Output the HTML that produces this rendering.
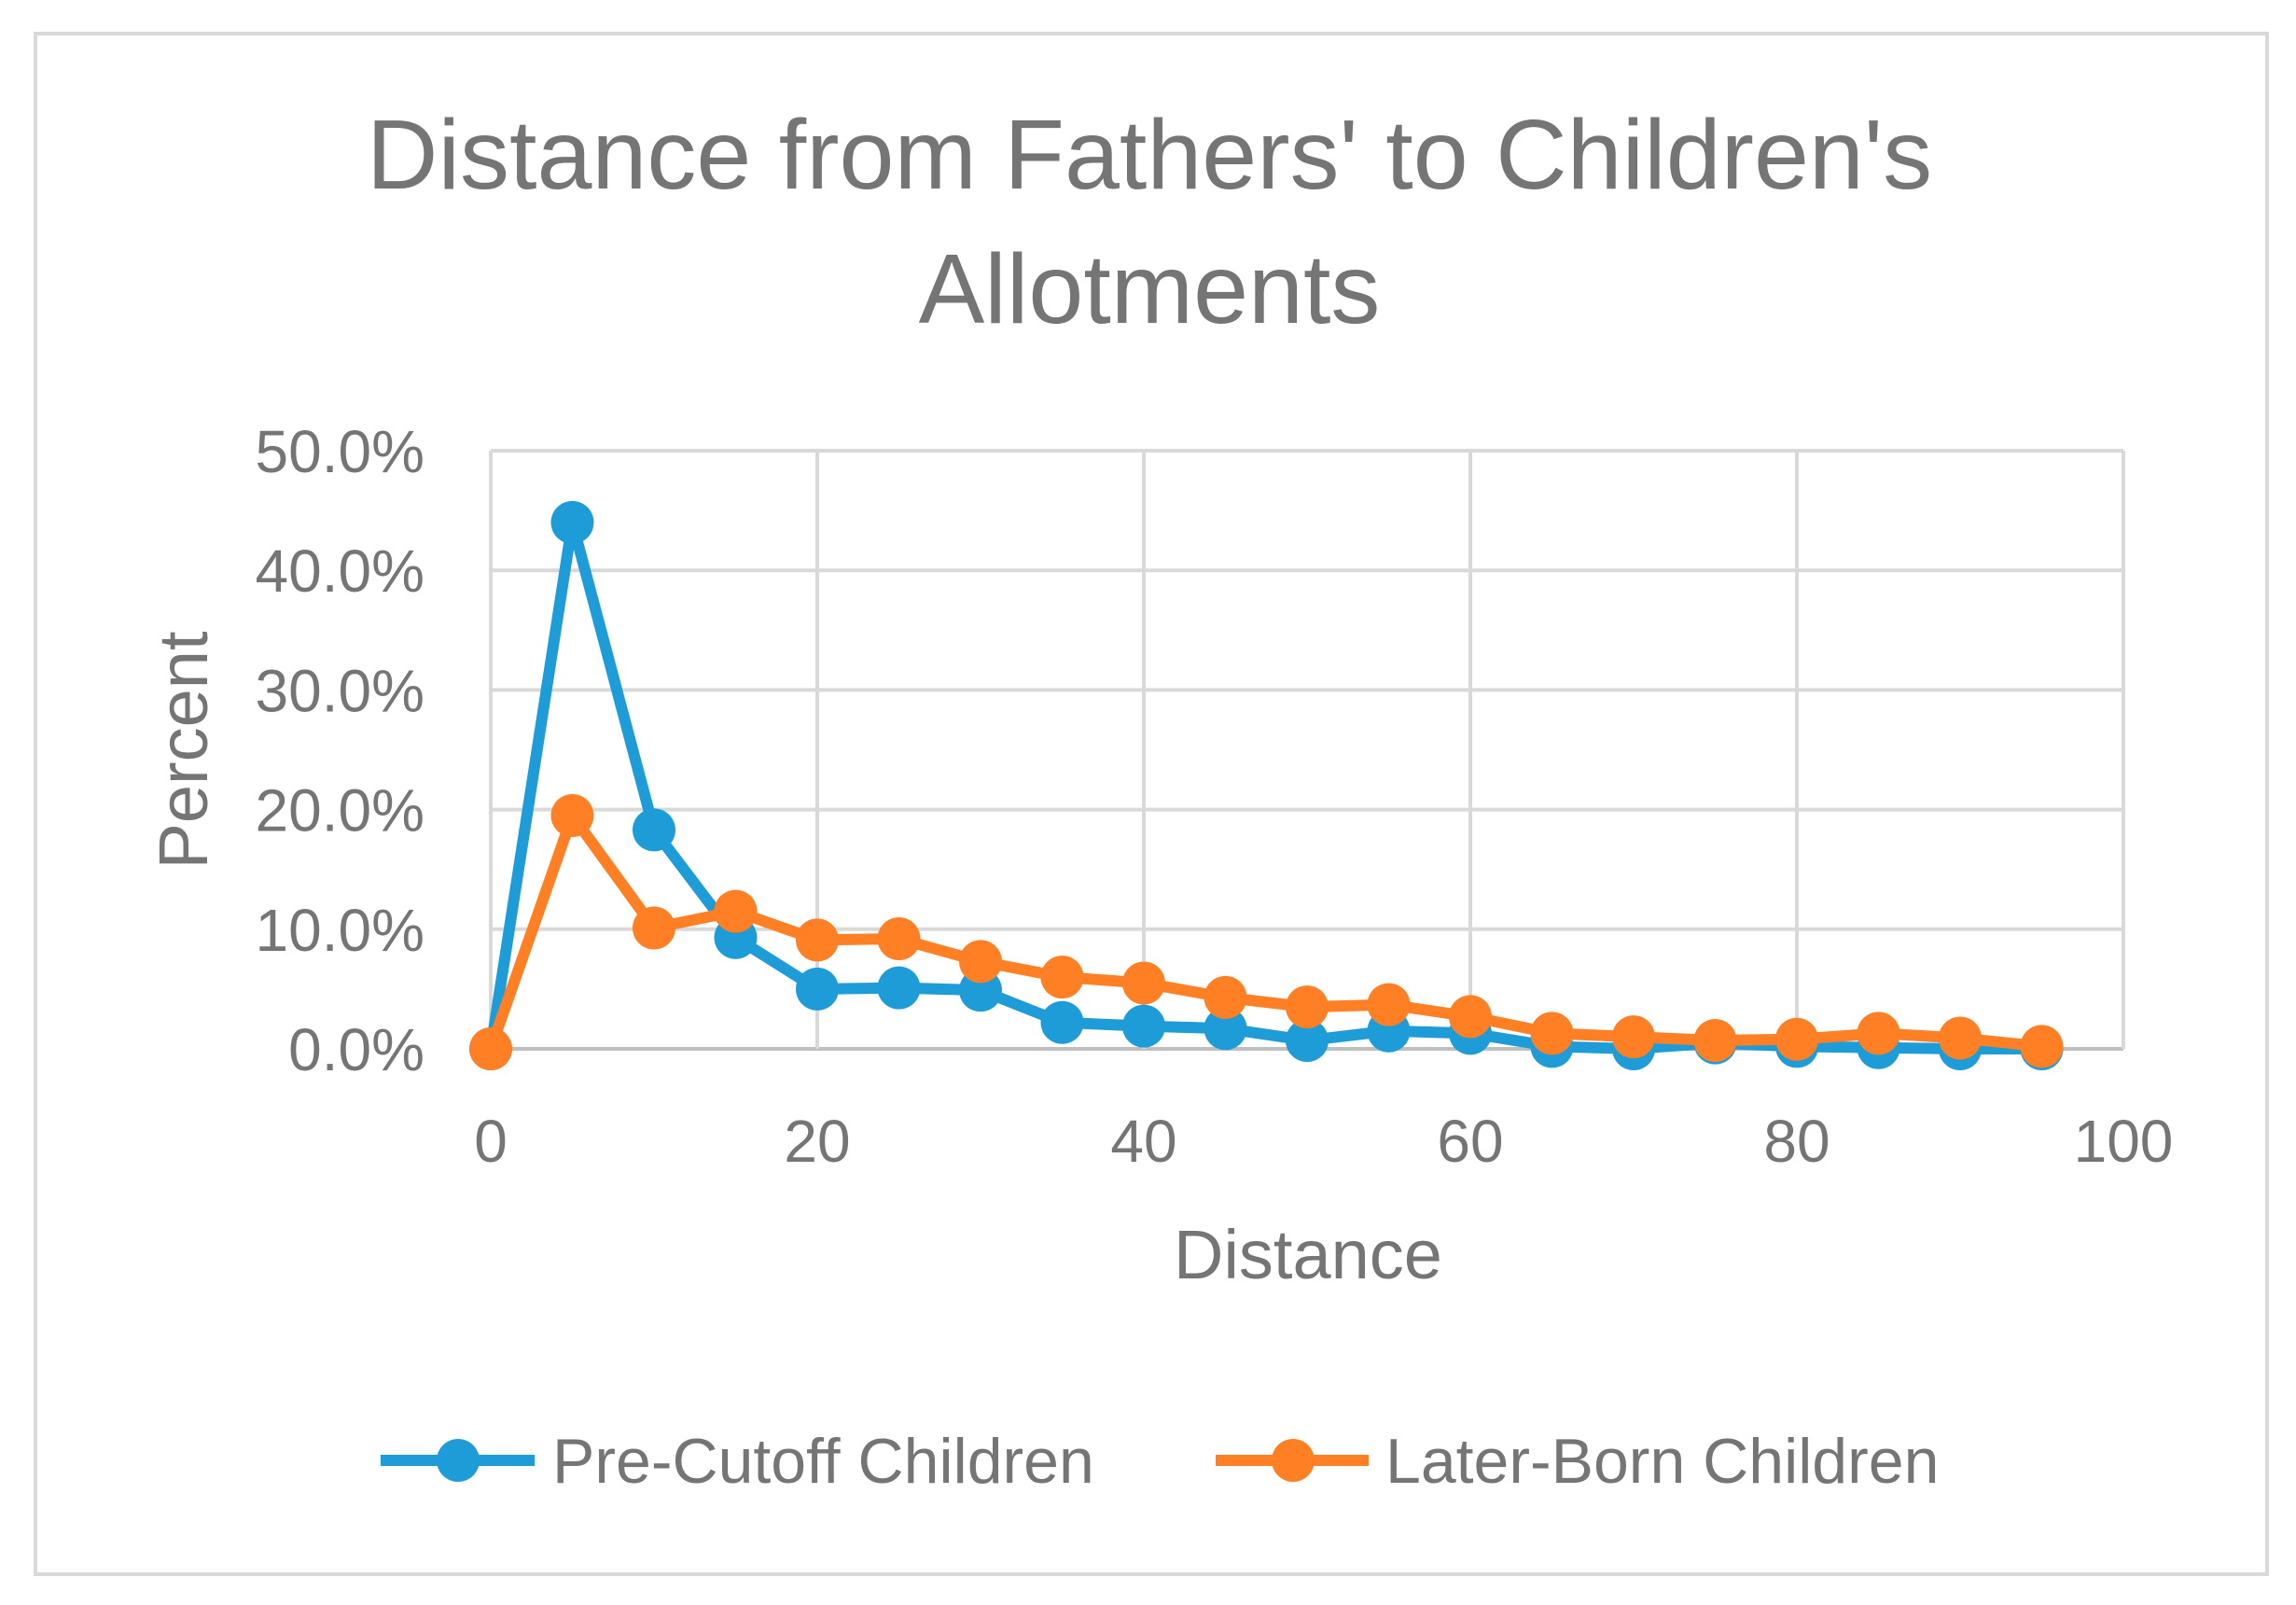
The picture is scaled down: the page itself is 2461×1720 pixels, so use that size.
<!DOCTYPE html>
<html><head><meta charset="utf-8"><style>
html,body{margin:0;padding:0;background:#fff;}
svg{display:block;font-family:"Liberation Sans",sans-serif;}
</style></head><body>
<svg id="chart" width="2461" height="1720">
<rect x="38" y="36" width="2392" height="1651" fill="#fff" stroke="#d9d9d9" stroke-width="4"/>
<text x="1232" y="202" text-anchor="middle" font-size="106" fill="#757575">Distance from Fathers' to Children's</text>
<text x="1232" y="346" text-anchor="middle" font-size="106" fill="#757575">Allotments</text>
<g id="grid"></g>
<g id="series"></g>
<text transform="translate(222,804) rotate(-90)" text-anchor="middle" font-size="74" fill="#757575">Percent</text>
<text x="1402" y="1370" text-anchor="middle" font-size="74" fill="#757575">Distance</text>
<g>
<g>
<line x1="408" y1="1565" x2="573" y2="1565" stroke="#1e9cd8" stroke-width="12"/>
<circle cx="491" cy="1565" r="23" fill="#1e9cd8"/>
<text x="592" y="1589" font-size="68" fill="#757575">Pre-Cutoff Children</text>
</g>
<g>
<line x1="1303" y1="1565" x2="1467" y2="1565" stroke="#fe7f24" stroke-width="12"/>
<circle cx="1386" cy="1565" r="23" fill="#fe7f24"/>
<text x="1485" y="1589" font-size="68" fill="#757575">Later-Born Children</text>
</g>
</g>
</svg>
<script>
const distances = [0,5,10,15,20,25,30,35,40,45,50,55,60,65,70,75,80,85,90,95];
const preCutoff = [0,44,18.3,9.3,5,5.1,4.9,2.2,1.9,1.7,0.7,1.5,1.3,0.2,0,0.5,0.2,0.1,0,0];
const laterBorn = [0,19.5,10.1,11.5,9.1,9.2,7.3,6.0,5.5,4.3,3.5,3.7,2.7,1.3,1.0,0.7,0.8,1.3,0.9,0.2];
const xTicks = [0,20,40,60,80,100];
const yTicks = [0,10,20,30,40,50];
const NS = "http://www.w3.org/2000/svg";
const L=526,R=2276,T=483,B=1124;
function xs(v){return L+(v/100)*(R-L);}
function ys(v){return B-(v/50)*(B-T);}
const grid=document.getElementById('grid');
const series=document.getElementById('series');
function mk(tag,attrs,parent){const e=document.createElementNS(NS,tag);for(const k in attrs)e.setAttribute(k,attrs[k]);parent.appendChild(e);return e;}
yTicks.forEach(t=>{
  const l=mk('line',{x1:L,x2:R,y1:ys(t),y2:ys(t),stroke:t===0?'#bfbfbf':'#d9d9d9','stroke-width':4},grid);
  
  
  const tx=mk('text',{x:455,y:ys(t)+23,'text-anchor':'end','font-size':64,fill:'#757575'},grid);
  tx.textContent=t.toFixed(1)+'%';
  
  
});
xTicks.forEach(t=>{
  const l=mk('line',{x1:xs(t),x2:xs(t),y1:T,y2:B,stroke:'#d9d9d9','stroke-width':4},grid);
  
  
  const tx=mk('text',{x:xs(t),y:1245,'text-anchor':'middle','font-size':64,fill:'#757575'},grid);
  tx.textContent=t;
  
  
});
function draw(vals,color,name){
  const g=mk('g',{},series);
  
  
  const pts=vals.map((v,i)=>xs(distances[i])+','+ys(v)).join(' ');
  const pl=mk('polyline',{points:pts,fill:'none',stroke:color,'stroke-width':12,'stroke-linejoin':'round'},g);
  
  
  vals.forEach((v,i)=>{
    const c=mk('circle',{cx:xs(distances[i]),cy:ys(v),r:23,fill:color},g);
    
    
  });
}
draw(preCutoff,'#1e9cd8','pre-cutoff-series');
draw(laterBorn,'#fe7f24','later-born-series');
</script>
</body></html>
